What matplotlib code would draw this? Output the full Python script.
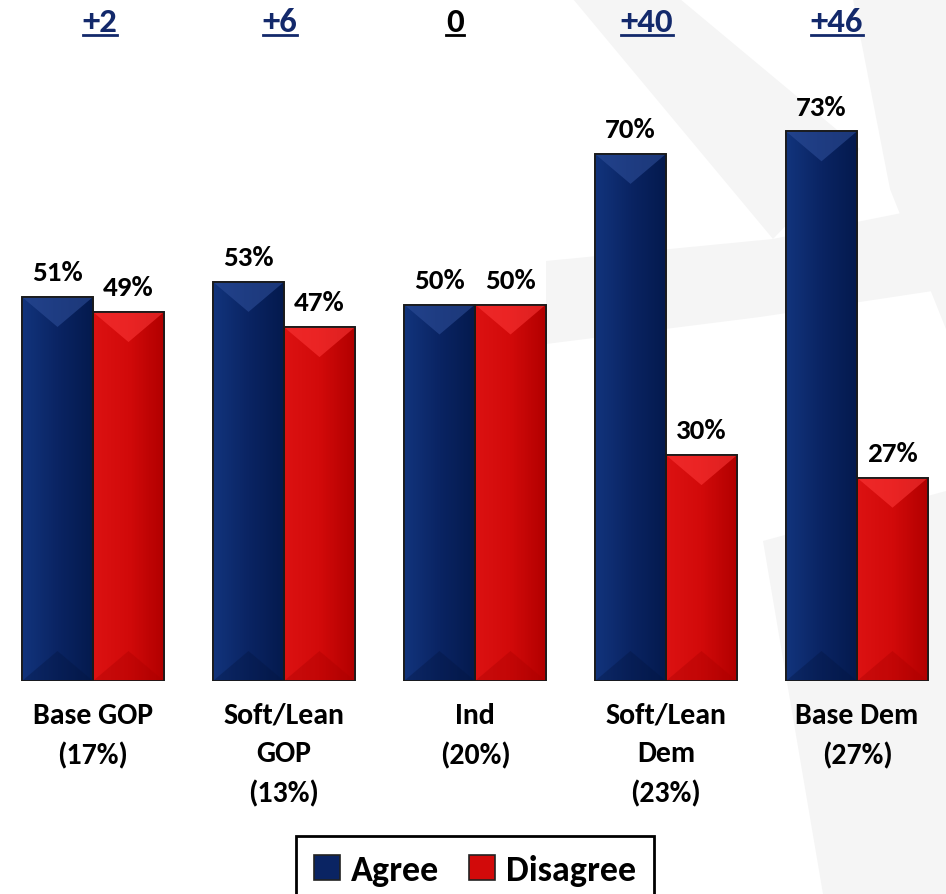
import numpy as np
import matplotlib
matplotlib.use("Agg")
import matplotlib.pyplot as plt
from matplotlib.patches import Polygon, Rectangle
from matplotlib.lines import Line2D
from matplotlib.colors import LinearSegmentedColormap

FONT = ['Carlito', 'DejaVu Sans']
plt.rcParams['font.family'] = FONT
plt.rcParams['font.weight'] = 'bold'

# ---- data ----
categories = ["Base GOP\n(17%)", "Soft/Lean\nGOP\n(13%)", "Ind\n(20%)", "Soft/Lean\nDem\n(23%)", "Base Dem\n(27%)"]
agree = [51, 53, 50, 70, 73]
disagree = [49, 47, 50, 30, 27]
net_labels = ["+2", "+6", "0", "+40", "+46"]
series_names = ["Agree", "Disagree"]

BLUE = "#0a2463"
BLUE_L = "#12347c"
BLUE_D = "#041a4e"
BLUE_TOP = "#2d4d97"
RED = "#d20a0a"
RED_L = "#dc1212"
RED_D = "#b20000"
RED_TOP = "#ff3a3a"
NAVY_TXT = "#13296b"

W, H = 946, 895
fig = plt.figure(figsize=(W / 100, H / 100), dpi=100)
fig.patch.set_facecolor("white")

# faint watermark shapes (decorative background, behind everything)
bg = fig.add_axes([0, 0, 1, 1], zorder=-1)
bg.set_xlim(0, W)
bg.set_ylim(H, 0)
bg.axis("off")
wm = "#f5f5f5"
for pts in [
    [(573, 0), (680, 0), (860, 150), (773, 240)],
    [(853, 0), (946, 0), (946, 330), (890, 190)],
    [(546, 262), (773, 240), (946, 205), (946, 290), (760, 318), (546, 345)],
    [(763, 542), (946, 492), (946, 895), (823, 895)],
]:
    bg.add_patch(Polygon(pts, closed=True, facecolor=wm, edgecolor="none"))

ax = fig.add_axes([0, 1 - 682 / H, 1, 682 / H], zorder=1)
ax.set_facecolor("none")
px_per_unit = 7.53
group_px = 191.0
ax.set_xlim(-93 / group_px, (W - 93) / group_px)
ax.set_ylim(0, 682 / px_per_unit)
ax.axis("off")

x = np.arange(len(categories))
bw = 71 / group_px

bars_a = ax.bar(x - bw / 2, agree, bw, color=BLUE, edgecolor="#222222", linewidth=1.2, zorder=3)
bars_d = ax.bar(x + bw / 2, disagree, bw, color=RED, edgecolor="#222222", linewidth=1.2, zorder=3)

cmap_b = LinearSegmentedColormap.from_list("b", [BLUE_L, BLUE, BLUE_D])
cmap_r = LinearSegmentedColormap.from_list("r", [RED_L, RED, RED_D])
grad = np.linspace(0, 1, 64).reshape(1, -1)

depth = 30 / px_per_unit
for bars, cmap, topc, ta, botc in [(bars_a, cmap_b, BLUE_TOP, 0.6, "#03143f"),
                                   (bars_d, cmap_r, RED_TOP, 0.55, "#a80000")]:
    for b in bars:
        x0, w, h = b.get_x(), b.get_width(), b.get_height()
        im = ax.imshow(grad, extent=[x0, x0 + w, 0, h], aspect="auto", cmap=cmap, zorder=3.1)
        im.set_clip_path(b)
        xc = x0 + w / 2
        ax.add_patch(Polygon([(x0, h), (x0 + w, h), (xc, h - depth)], closed=True,
                             facecolor=topc, edgecolor="none", alpha=ta, zorder=3.2))
        ax.add_patch(Polygon([(x0, 0), (x0 + w, 0), (xc, depth)], closed=True,
                             facecolor=botc, edgecolor="none", alpha=0.35, zorder=3.2))
        ax.add_patch(Rectangle((x0, 0), w, h, facecolor="none", edgecolor="#1a1a1a",
                               linewidth=1.3, zorder=3.3))

# value labels
for bars, vals in [(bars_a, agree), (bars_d, disagree)]:
    for b, v in zip(bars, vals):
        ax.annotate(f"{v}%", (b.get_x() + b.get_width() / 2, v), xytext=(0, 12),
                    textcoords="offset points", ha="center", va="baseline",
                    fontsize=21, fontweight="bold", color="black", zorder=5)

# category labels
for xi, lab in zip(x, categories):
    ax.text(xi, -21 / px_per_unit, lab, ha="center", va="top", fontsize=21.5,
            fontweight="bold", linespacing=1.58, color="black")

# net labels on top (underlined)
net_x = [100, 280, 455, 647, 837]
fig.canvas.draw()
rend = fig.canvas.get_renderer()
for i, lab in enumerate(net_labels):
    col = "black" if lab == "0" else NAVY_TXT
    t = fig.text(net_x[i] / W, 1 - 32 / H, lab, ha="center", va="baseline",
                 fontsize=25, fontweight="bold", color=col)
    bb = t.get_window_extent(rend)
    yline = (H - 36) / H
    fig.add_artist(Line2D([bb.x0 / W, bb.x1 / W], [yline, yline], transform=fig.transFigure,
                          color=col, linewidth=2))

# legend
handles = [Rectangle((0, 0), 1, 1, facecolor=BLUE, edgecolor="#222222", linewidth=1.2),
           Rectangle((0, 0), 1, 1, facecolor=RED, edgecolor="#222222", linewidth=1.2)]
leg = fig.legend(handles, series_names, loc="upper center", bbox_to_anchor=(475 / W, 1 - 837 / H),
                 ncol=2, frameon=True, fancybox=False, edgecolor="black", framealpha=1,
                 prop={"size": 26, "weight": "bold", "family": FONT},
                 handlelength=0.72, handleheight=0.7, handletextpad=0.3, columnspacing=0.85,
                 borderpad=0.5, borderaxespad=0)
leg.get_frame().set_linewidth(2)

fig.savefig("out.png", dpi=100, facecolor="white")
